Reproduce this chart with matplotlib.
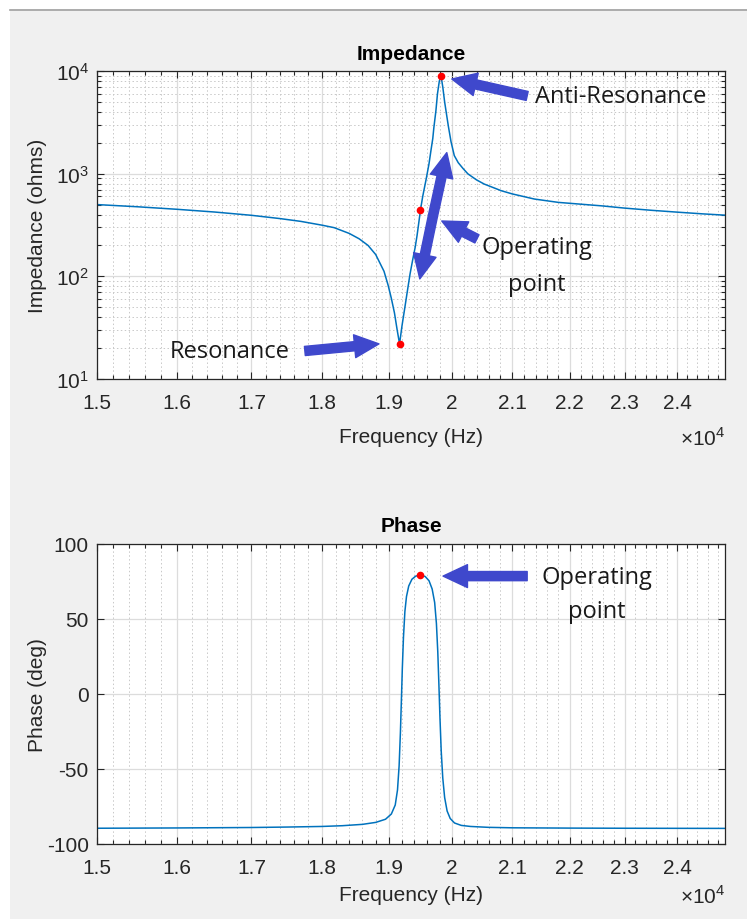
import matplotlib.pyplot as plt
import matplotlib.patches as mpatches
from matplotlib.ticker import NullFormatter, FixedLocator

# Data
freq_z = [15000, 15500, 16000, 16500, 17000, 17400, 17693, 18000, 18177, 18400,
          18550, 18684, 18800, 18927, 18990, 19040, 19088, 19130, 19167, 19205,
          19250, 19289, 19330, 19374, 19410, 19440, 19470, 19495, 19530, 19587,
          19630, 19662, 19690, 19707, 19740, 19765, 19795, 19823, 19850, 19880,
          19910, 19940, 19983, 20036, 20100, 20180, 20259, 20400, 20528, 20814,
          21000, 21380, 21800, 22574, 23000, 23500, 24000, 24500, 25000]
impedance = [500, 476, 450, 423, 393, 365, 343, 315, 298, 262,
             232, 200, 163, 112, 82, 61, 44, 30, 22, 33,
             50, 72, 105, 147, 190, 248, 340, 445, 600, 900,
             1250, 1700, 2200, 2800, 4100, 6000, 8000, 8900, 7000, 5000,
             3800, 2900, 2050, 1500, 1280, 1120, 995, 870, 792, 682,
             635, 566, 525, 486, 462, 440, 422, 406, 393]

freq_p = [15000, 16000, 17000, 17500, 18000, 18300, 18600, 18800, 18950, 19040,
          19100, 19135, 19160, 19180, 19195, 19210, 19228, 19250, 19275, 19310,
          19360, 19420, 19495, 19570, 19630, 19680, 19720, 19748, 19770, 19788,
          19805, 19825, 19850, 19880, 19920, 19970, 20040, 20150, 20300, 20600,
          21000, 22000, 23000, 25000]
phase = [-89.5, -89.3, -89.0, -88.7, -88.3, -87.8, -86.9, -85.6, -83.5, -80,
         -74, -64, -48, -26, -5, 17, 38, 55, 65, 72,
         76.5, 78.6, 79.3, 78.3, 75.5, 70, 61, 47, 28, 6,
         -16, -38, -56, -69, -78, -83, -86, -87.6, -88.3, -88.9,
         -89.2, -89.4, -89.5, -89.6]

f_res, z_res = 19167, 22
f_op, z_op = 19495, 445
f_anti, z_anti = 19823, 8900
ph_op = 79.3

xticks = [15000, 16000, 17000, 18000, 19000, 20000, 21000, 22000, 23000, 24000]
xticklabels = ['1.5', '1.6', '1.7', '1.8', '1.9', '2', '2.1', '2.2', '2.3', '2.4']
xminor = [f for f in range(15000, 25000, 200) if f % 1000 != 0]

line_c = '#0072BD'
arrow_c = '#3F48CC'
text_c = '#262626'
fs = 15

plt.rcParams['font.family'] = ['Liberation Sans', 'DejaVu Sans']
plt.rcParams['mathtext.fontset'] = 'custom'
plt.rcParams['mathtext.rm'] = 'Liberation Sans'
plt.rcParams['axes.unicode_minus'] = False

# Layout
fig = plt.figure(figsize=(7.47, 9.2), dpi=100, facecolor='#f0f0f0')
fig.patches.append(mpatches.Rectangle((0, 0), 10 / 747, 1, transform=fig.transFigure,
                                      facecolor='white', edgecolor='none', zorder=0))
fig.patches.append(mpatches.Rectangle((0, 1 - 10 / 920), 1, 10 / 920, transform=fig.transFigure,
                                      facecolor='white', edgecolor='none', zorder=0))
fig.lines.append(plt.Line2D([10 / 747, 1], [1 - 10.5 / 920] * 2, transform=fig.transFigure,
                            color='#a0a0a0', lw=1.2))

ax1 = fig.add_axes([97 / 747, 1 - 380 / 920, 628 / 747, 308 / 920])
ax2 = fig.add_axes([97 / 747, 1 - 845 / 920, 628 / 747, 300 / 920])


def style(ax, height_px, label_off, exp_off):
    ax.set_xscale('log')
    ax.set_xlim(15000, 24950)
    ax.xaxis.set_major_locator(FixedLocator(xticks))
    ax.set_xticklabels(xticklabels)
    ax.xaxis.set_minor_locator(FixedLocator(xminor))
    ax.xaxis.set_minor_formatter(NullFormatter())
    ax.tick_params(which='both', direction='in', top=True, right=True,
                   colors=text_c, labelsize=fs, width=0.8)
    ax.tick_params(which='major', length=5)
    ax.tick_params(which='minor', length=3)
    ax.tick_params(axis='x', pad=10)
    ax.tick_params(axis='y', pad=6)
    for s in ax.spines.values():
        s.set_color(text_c)
        s.set_linewidth(0.9)
    ax.grid(True, which='major', color='#dcdcdc', lw=0.9)
    ax.set_axisbelow(True)
    ax.set_xlabel('Frequency (Hz)', fontsize=fs, color=text_c)
    ax.xaxis.set_label_coords(0.5, -label_off / height_px)
    ax.yaxis.set_label_coords(-50 / 628, 0.5)
    ax.text(1.0, -exp_off / height_px, r'$\times10^4$', transform=ax.transAxes, ha='right',
            va='center', fontsize=fs, color=text_c)


# Impedance
style(ax1, 308, 48, 58)
ax1.set_yscale('log')
ax1.set_ylim(10, 10000)
ax1.grid(True, which='minor', color='#c8c8c8', lw=0.7, linestyle=(0, (1.5, 2.5)))
ax1.plot(freq_z, impedance, color=line_c, lw=1.1)
ax1.plot([f_res, f_op, f_anti], [z_res, z_op, z_anti], 'o', color='#ff0000', ms=5.5, mec='none')
ax1.set_title('Impedance', fontsize=fs, fontweight='bold', color='black', pad=9)
ax1.set_ylabel('Impedance (ohms)', fontsize=fs, color=text_c)

# Phase
style(ax2, 300, 41, 52)
ax2.set_ylim(-100, 100)
ax2.set_yticks([-100, -50, 0, 50, 100])
ax2.grid(True, which='minor', axis='x', color='#c8c8c8', lw=0.7, linestyle=(0, (1.5, 2.5)))
ax2.plot(freq_p, phase, color=line_c, lw=1.1)
ax2.plot([f_op], [ph_op], 'o', color='#ff0000', ms=5.5, mec='none')
ax2.set_title('Phase', fontsize=fs, fontweight='bold', color='black', pad=9)
ax2.set_ylabel('Phase (deg)', fontsize=fs, color=text_c)

# Annotations
arrow = dict(arrowstyle='simple,head_width=1.5,head_length=1.6,tail_width=0.6',
             color=arrow_c, mutation_scale=11, shrinkA=0, shrinkB=0)
note = dict(fontsize=17, family=['Open Sans', 'DejaVu Sans'], color='#1a1a1a')


def block_arrow(ax, tail, head):
    ax.annotate('', xy=head, xytext=tail, xycoords='axes fraction',
                textcoords='axes fraction', arrowprops=arrow)


block_arrow(ax1, (0.685, 0.919), (0.565, 0.974))
block_arrow(ax1, (0.331, 0.091), (0.449, 0.114))
block_arrow(ax1, (0.535, 0.53), (0.514, 0.325))
block_arrow(ax1, (0.535, 0.53), (0.557, 0.735))
block_arrow(ax1, (0.605, 0.455), (0.549, 0.513))
ax1.text(0.697, 0.919, 'Anti-Resonance', transform=ax1.transAxes, ha='left', va='center', **note)
ax1.text(0.701, 0.368, 'Operating\npoint', transform=ax1.transAxes, ha='center', va='center',
         linespacing=1.75, **note)
ax1.text(0.307, 0.091, 'Resonance', transform=ax1.transAxes, ha='right', va='center', **note)

block_arrow(ax2, (0.685, 0.893), (0.551, 0.893))
ax2.text(0.796, 0.833, 'Operating\npoint', transform=ax2.transAxes, ha='center', va='center',
         linespacing=1.6, **note)

# Output
fig.savefig('out.png', dpi=100, facecolor=fig.get_facecolor())
